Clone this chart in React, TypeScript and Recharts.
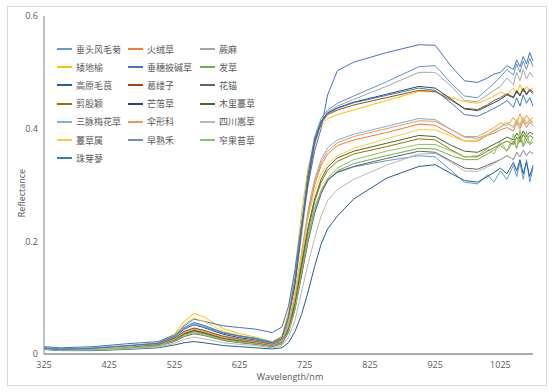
import { LineChart, Line, XAxis, YAxis, Legend } from "recharts";

// wavelength (nm) at which each spectrum is sampled
const wavelengths = [
  325, 350, 400, 450, 500, 525, 540, 555, 570, 600, 625, 650, 675, 690, 700,
  710, 720, 730, 740, 750, 760, 775, 800, 850, 900, 925, 950, 970, 990, 1005,
  1015, 1025, 1035, 1045, 1050, 1055, 1060, 1065, 1070, 1075,
];

const xTicks = [325, 425, 525, 625, 725, 825, 925, 1025];
const yTicks = [0, 0.2, 0.4, 0.6];

const speciesNames = [
  "垂头风毛菊", "火绒草", "蕨麻",
  "矮地榆", "垂穗披碱草", "发草",
  "高原毛茛", "葛缕子", "花锚",
  "剪股颖", "芒菭草", "木里薹草",
  "三脉梅花草", "伞形科", "四川嵩草",
  "薹草属", "早熟禾", "窄果苔草",
  "珠芽蓼",
];

const colors = [
  "#5B9BD5", "#ED7D31", "#A5A5A5",
  "#FFC000", "#4472C4", "#70AD47",
  "#255E91", "#9E480E", "#636363",
  "#997300", "#264478", "#43682B",
  "#7CAFDD", "#F1975A", "#B7B7B7",
  "#FFCD33", "#698ED0", "#8CC168",
  "#327DC2",
];

const s1 = [0.010, 0.008, 0.009, 0.012, 0.016, 0.026, 0.036, 0.040, 0.036, 0.027, 0.023, 0.020, 0.015, 0.020, 0.042,
  0.085, 0.15, 0.21, 0.26, 0.29, 0.31, 0.322, 0.332, 0.343, 0.352, 0.35, 0.325, 0.305, 0.302, 0.318,
  0.305, 0.325, 0.31, 0.335, 0.315, 0.34, 0.31, 0.345, 0.305, 0.33];
const s2 = [0.009, 0.007, 0.008, 0.011, 0.015, 0.025, 0.036, 0.042, 0.038, 0.028, 0.024, 0.021, 0.016, 0.022, 0.05,
  0.10, 0.17, 0.245, 0.30, 0.335, 0.355, 0.37, 0.38, 0.393, 0.408, 0.406, 0.39, 0.378, 0.378, 0.388,
  0.392, 0.398, 0.402, 0.396, 0.41, 0.40, 0.414, 0.402, 0.412, 0.405];
const s3 = [0.011, 0.009, 0.010, 0.013, 0.017, 0.028, 0.040, 0.046, 0.042, 0.032, 0.027, 0.023, 0.018, 0.026, 0.06,
  0.12, 0.21, 0.30, 0.37, 0.41, 0.43, 0.44, 0.452, 0.475, 0.50, 0.50, 0.475, 0.45, 0.448, 0.46,
  0.468, 0.475, 0.49, 0.478, 0.50, 0.485, 0.505, 0.488, 0.50, 0.492];
const s4 = [0.010, 0.008, 0.010, 0.014, 0.020, 0.035, 0.058, 0.072, 0.066, 0.045, 0.036, 0.030, 0.022, 0.032, 0.075,
  0.15, 0.25, 0.33, 0.38, 0.405, 0.418, 0.425, 0.433, 0.45, 0.466, 0.465, 0.455, 0.448, 0.445, 0.452,
  0.458, 0.465, 0.46, 0.472, 0.462, 0.478, 0.465, 0.475, 0.468, 0.472];
const s5 = [0.013, 0.011, 0.013, 0.018, 0.022, 0.034, 0.050, 0.062, 0.058, 0.050, 0.047, 0.044, 0.038, 0.048, 0.085,
  0.15, 0.23, 0.30, 0.36, 0.40, 0.46, 0.503, 0.518, 0.535, 0.549, 0.548, 0.51, 0.485, 0.482, 0.49,
  0.497, 0.50, 0.512, 0.505, 0.522, 0.51, 0.528, 0.515, 0.535, 0.52];
const s6 = [0.009, 0.007, 0.008, 0.011, 0.015, 0.024, 0.034, 0.040, 0.036, 0.026, 0.022, 0.019, 0.014, 0.019, 0.04,
  0.08, 0.14, 0.2, 0.25, 0.285, 0.308, 0.325, 0.338, 0.352, 0.365, 0.364, 0.352, 0.345, 0.345, 0.355,
  0.362, 0.37, 0.36, 0.378, 0.365, 0.385, 0.368, 0.38, 0.372, 0.376];
const s7 = [0.008, 0.006, 0.006, 0.008, 0.011, 0.016, 0.020, 0.022, 0.020, 0.015, 0.013, 0.011, 0.009, 0.011, 0.02,
  0.04, 0.07, 0.11, 0.155, 0.195, 0.222, 0.245, 0.275, 0.312, 0.333, 0.336, 0.32, 0.308, 0.305, 0.315,
  0.322, 0.33, 0.32, 0.34, 0.325, 0.345, 0.32, 0.34, 0.315, 0.335];
const s8 = [0.010, 0.008, 0.009, 0.012, 0.016, 0.028, 0.040, 0.046, 0.042, 0.031, 0.026, 0.022, 0.017, 0.025, 0.06,
  0.125, 0.22, 0.31, 0.375, 0.41, 0.425, 0.433, 0.442, 0.455, 0.468, 0.466, 0.45, 0.436, 0.434, 0.442,
  0.45, 0.455, 0.462, 0.456, 0.468, 0.46, 0.472, 0.462, 0.47, 0.465];
const s9 = [0.009, 0.007, 0.008, 0.010, 0.014, 0.022, 0.031, 0.036, 0.033, 0.024, 0.020, 0.017, 0.013, 0.018, 0.038,
  0.08, 0.14, 0.2, 0.25, 0.285, 0.308, 0.323, 0.333, 0.347, 0.36, 0.358, 0.342, 0.33, 0.328, 0.335,
  0.34, 0.345, 0.352, 0.345, 0.358, 0.35, 0.362, 0.352, 0.36, 0.355];
const s10 = [0.009, 0.007, 0.008, 0.011, 0.015, 0.025, 0.036, 0.042, 0.038, 0.028, 0.024, 0.020, 0.015, 0.021, 0.045,
  0.09, 0.155, 0.22, 0.27, 0.305, 0.326, 0.342, 0.355, 0.368, 0.382, 0.38, 0.362, 0.35, 0.35, 0.36,
  0.366, 0.372, 0.378, 0.372, 0.385, 0.376, 0.39, 0.38, 0.388, 0.384];
const s11 = [0.010, 0.008, 0.009, 0.013, 0.018, 0.030, 0.044, 0.052, 0.047, 0.035, 0.029, 0.025, 0.019, 0.028, 0.065,
  0.13, 0.225, 0.315, 0.38, 0.413, 0.428, 0.437, 0.447, 0.461, 0.475, 0.472, 0.452, 0.435, 0.432, 0.44,
  0.446, 0.452, 0.46, 0.455, 0.466, 0.458, 0.47, 0.46, 0.468, 0.462];
const s12 = [0.009, 0.007, 0.008, 0.011, 0.015, 0.025, 0.036, 0.042, 0.038, 0.028, 0.024, 0.020, 0.015, 0.021, 0.045,
  0.09, 0.16, 0.225, 0.275, 0.31, 0.332, 0.348, 0.36, 0.374, 0.388, 0.386, 0.37, 0.36, 0.358, 0.366,
  0.372, 0.378, 0.385, 0.38, 0.392, 0.384, 0.396, 0.386, 0.394, 0.39];
const s13 = [0.010, 0.008, 0.009, 0.013, 0.018, 0.030, 0.045, 0.054, 0.049, 0.037, 0.031, 0.026, 0.019, 0.026, 0.055,
  0.11, 0.18, 0.255, 0.31, 0.345, 0.366, 0.38, 0.39, 0.404, 0.418, 0.416, 0.398, 0.385, 0.383, 0.39,
  0.396, 0.402, 0.41, 0.402, 0.415, 0.405, 0.418, 0.408, 0.415, 0.41];
const s14 = [0.009, 0.007, 0.008, 0.011, 0.015, 0.026, 0.038, 0.044, 0.040, 0.029, 0.025, 0.021, 0.016, 0.022, 0.05,
  0.10, 0.175, 0.25, 0.305, 0.34, 0.36, 0.375, 0.386, 0.4, 0.414, 0.413, 0.398, 0.386, 0.386, 0.395,
  0.402, 0.41, 0.405, 0.42, 0.41, 0.426, 0.412, 0.424, 0.415, 0.42];
const s15 = [0.009, 0.007, 0.007, 0.009, 0.012, 0.019, 0.026, 0.030, 0.027, 0.020, 0.017, 0.015, 0.011, 0.015, 0.03,
  0.06, 0.11, 0.16, 0.205, 0.245, 0.272, 0.292, 0.31, 0.335, 0.355, 0.356, 0.34, 0.325, 0.324, 0.332,
  0.338, 0.345, 0.352, 0.345, 0.358, 0.35, 0.362, 0.352, 0.36, 0.356];
const s16 = [0.010, 0.008, 0.009, 0.013, 0.019, 0.033, 0.052, 0.064, 0.058, 0.040, 0.033, 0.028, 0.021, 0.028, 0.06,
  0.11, 0.175, 0.24, 0.29, 0.32, 0.338, 0.352, 0.365, 0.382, 0.398, 0.398, 0.386, 0.378, 0.38, 0.39,
  0.398, 0.405, 0.412, 0.404, 0.418, 0.408, 0.422, 0.41, 0.418, 0.412];
const s17 = [0.011, 0.009, 0.011, 0.015, 0.019, 0.031, 0.045, 0.052, 0.048, 0.037, 0.032, 0.028, 0.021, 0.030, 0.068,
  0.135, 0.23, 0.32, 0.385, 0.418, 0.433, 0.445, 0.458, 0.483, 0.51, 0.512, 0.48, 0.458, 0.455, 0.47,
  0.48, 0.492, 0.505, 0.495, 0.515, 0.5, 0.52, 0.505, 0.525, 0.51];
const s18 = [0.009, 0.007, 0.008, 0.010, 0.014, 0.023, 0.033, 0.038, 0.034, 0.025, 0.021, 0.018, 0.014, 0.019, 0.04,
  0.08, 0.145, 0.205, 0.255, 0.29, 0.312, 0.33, 0.345, 0.36, 0.372, 0.372, 0.36, 0.35, 0.352, 0.365,
  0.355, 0.378, 0.36, 0.39, 0.365, 0.398, 0.37, 0.395, 0.372, 0.385];
const s19 = [0.010, 0.008, 0.010, 0.014, 0.019, 0.032, 0.047, 0.056, 0.051, 0.038, 0.032, 0.027, 0.020, 0.028, 0.065,
  0.13, 0.225, 0.315, 0.38, 0.412, 0.427, 0.436, 0.446, 0.459, 0.472, 0.468, 0.445, 0.425, 0.422, 0.43,
  0.436, 0.442, 0.45, 0.438, 0.455, 0.44, 0.46, 0.445, 0.455, 0.44];

const seriesValues = [s1, s2, s3, s4, s5, s6, s7, s8, s9, s10, s11, s12, s13, s14, s15, s16, s17, s18, s19];

const data = wavelengths.map((w, i) => {
  const row: Record<string, number> = { w };
  seriesValues.forEach((s, k) => {
    row[`s${k}`] = s[i];
  });
  return row;
});

const textColor = "#595959";
const latinFont = "'Open Sans', 'Noto Sans', sans-serif";
const cjkFont = "'Noto Sans CJK SC', sans-serif";

function SpeciesLegend() {
  return (
    <div
      style={{
        display: "grid",
        gridTemplateColumns: "71px 72px 80px",
        rowGap: 0,
        fontFamily: cjkFont,
        fontSize: 9,
        color: textColor,
      }}
    >
      {speciesNames.map((name, i) => (
        <div key={name} style={{ display: "flex", alignItems: "center", height: 18.2 }}>
          <span
            style={{
              display: "inline-block",
              width: 15,
              height: 2,
              background: colors[i],
              marginRight: 4,
            }}
          />
          <span style={{ whiteSpace: "nowrap" }}>{name}</span>
        </div>
      ))}
    </div>
  );
}

export default function App() {
  return (
    <div style={{ position: "absolute", left: 0, top: 0, width: 552, height: 392, background: "#fff" }}>
      <div
        style={{
          position: "absolute",
          left: 7,
          top: 6,
          width: 538,
          height: 378,
          border: "1px solid #D9D9D9",
        }}
      />
      <LineChart
        width={552}
        height={392}
        data={data}
        margin={{ top: 16, right: 19, left: 4, bottom: 8 }}
      >
        <XAxis
          dataKey="w"
          type="number"
          domain={[325, 1075]}
          ticks={xTicks}
          tickLine={false}
          tickSize={6}
          tickMargin={2}
          height={30}
          axisLine={{ stroke: "#595959", strokeWidth: 1 }}
          tick={{ fontSize: 9, fill: textColor, fontFamily: latinFont }}
          label={() => (
            <text
              x={290}
              y={380}
              textAnchor="middle"
              fontSize={9}
              fill={textColor}
              fontFamily={latinFont}
            >
              Wavelength/nm
            </text>
          )}
        />
        <YAxis
          domain={[0, 0.6]}
          ticks={yTicks}
          width={40}
          tickLine={false}
          tickSize={4}
          tickMargin={2}
          axisLine={{ stroke: "#868686", strokeWidth: 1 }}
          tick={{ fontSize: 9, fill: textColor, fontFamily: latinFont }}
          tickFormatter={(v: number) => (v === 0 ? "0" : v.toFixed(1))}
          label={() => (
            <text
              x={25}
              y={193}
              transform="rotate(-90 25 193)"
              textAnchor="middle"
              fontSize={9}
              fill={textColor}
              fontFamily={latinFont}
            >
              Reflectance
            </text>
          )}
        />
        <Legend
          layout="vertical"
          align="center"
          verticalAlign="middle"
          content={() => <SpeciesLegend />}
          wrapperStyle={{ position: "absolute", left: 57, top: 40, width: 230 }}
        />
        {speciesNames.map((name, k) => (
          <Line
            key={name}
            type="linear"
            dataKey={`s${k}`}
            name={name}
            stroke={colors[k]}
            strokeWidth={1}
            dot={false}
            activeDot={false}
            isAnimationActive={false}
          />
        ))}
      </LineChart>
    </div>
  );
}
